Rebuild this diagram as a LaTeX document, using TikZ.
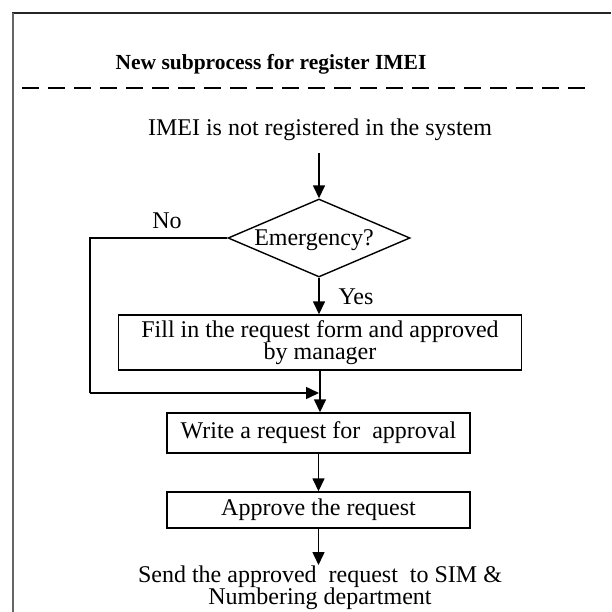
\documentclass[tikz,border=0pt]{standalone}
\usepackage{fontspec}
\setmainfont{Liberation Serif}
\usetikzlibrary{arrows.meta,shapes.geometric}
\begin{document}
\begin{tikzpicture}[x=1pt,y=-1pt,
  font=\fontsize{24}{22}\selectfont,
  proc/.style={draw,line width=1.4pt,inner sep=0pt,align=center},
  conn/.style={line width=1.5pt,-{Triangle[length=13pt,width=12pt]}},
  plain/.style={line width=1.5pt}]
\useasboundingbox (0,0) rectangle (611,612);
% frame
\draw[line width=2.5pt,black!85] (12,13) -- (611,13);
\draw[line width=1.5pt,black!60] (13,13) -- (13,612);
\node[font=\bfseries\fontsize{21.5}{22}\selectfont] (title) at (271,64) {New subprocess for register IMEI};
\draw[line width=1.8pt,dash pattern=on 17pt off 9pt] (22,88) -- (585,88);
% nodes
\node[inner sep=2pt] (start) at (320,130) {IMEI is not registered in the system};
\node[draw,shape=diamond,line width=1.4pt,inner sep=0pt,minimum width=182pt,minimum height=78pt] (dec) at (319,238) {};
\node (dectext) at (314,240) {Emergency?};
\node[proc,minimum width=403pt,minimum height=55pt] (fill) at (320,342.5) {Fill in the request form and approved\\by manager};
\node[proc,minimum width=303pt,minimum height=40pt] (write) at (318.5,433) {Write a request for\ \ approval};
\node[proc,minimum width=303pt,minimum height=36pt] (appr) at (318.5,510) {Approve the request};
\node[align=center,anchor=north,inner sep=1pt] (send) at (320,565) {Send the approved\ \ request\ \ to SIM \&\\Numbering department};
\node (no) at (167,221) {No};
\node (yes) at (356,297) {Yes};
\coordinate (c1) at (90,238);
\coordinate (c2) at (90,393);
\coordinate (m) at (320,393);
% connectors
\draw[conn] ([yshift=-10pt]start.south -| dec.north) -- (dec.north);
\draw[conn] (dec.south) -- (dec.south |- fill.north);
\draw[plain] (dec.west) -- (c1) -- (c2);
\draw[conn] (c2) -- ([xshift=-1pt]m);
\draw[conn] (fill.south -| m) -- (m |- write.north);
\draw[conn] (write.south) -- (appr.north);
\draw[conn] (appr.south) -- (appr.south |- send.north);
\end{tikzpicture}
\end{document}
